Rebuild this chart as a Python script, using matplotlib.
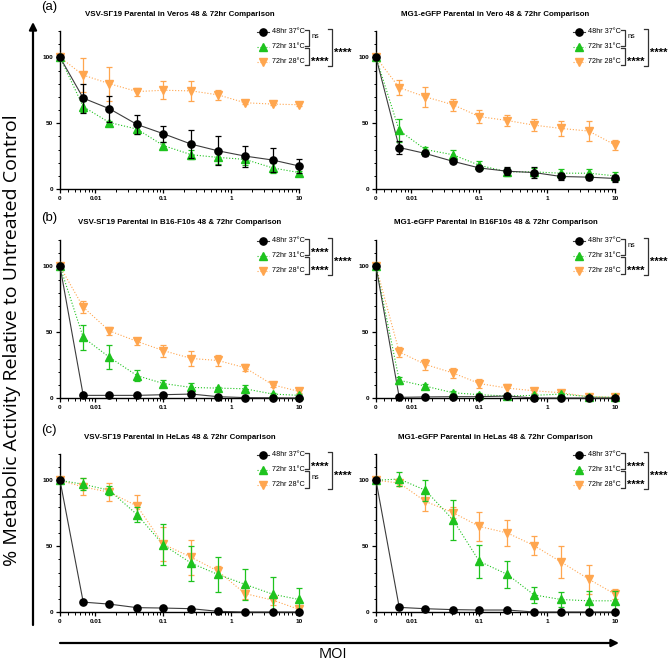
import matplotlib
matplotlib.use("Agg")
import matplotlib.pyplot as plt
from matplotlib.ticker import FixedLocator, FixedFormatter, LogLocator, MultipleLocator, NullFormatter

# --------------------- DATA ---------------------

moi = [0, 0.0066, 0.016, 0.041, 0.1, 0.26, 0.64, 1.6, 4.1, 10]
series_names = ["48hr 37°C", "72hr 31°C", "72hr 28°C"]

titles = [
    "VSV-SΓ19 Parental in Veros 48 & 72hr Comparison",
    "MG1-eGFP Parental in Vero 48 & 72hr Comparison",
    "VSV-SΓ19 Parental in B16-F10s 48 & 72hr Comparison",
    "MG1-eGFP Parental in B16F10s 48 & 72hr Comparison",
    "VSV-SΓ19 Parental in HeLas 48 & 72hr Comparison",
    "MG1-eGFP Parental in HeLas 48 & 72hr Comparison",
]
panel_tags = ["(a)", "(b)", "(c)"]

# VSV in Vero
vsv_vero_37 = [100, 69, 61, 49, 42, 34, 29, 25, 22, 17.5]
vsv_vero_37_err = [0, 11, 10, 7, 6, 10.5, 11, 8, 9, 5.5]
vsv_vero_31 = [100, 62.5, 50.5, 45.5, 33, 26, 24, 22.5, 16, 12.5]
vsv_vero_31_err = [0, 4, 1.5, 4, 2.5, 3.5, 5, 4, 3.5, 1.5]
vsv_vero_28 = [100, 86.5, 80, 74, 75, 74.5, 71.5, 65.5, 64.5, 64]
vsv_vero_28_err = [0, 13, 13, 3, 7, 7.5, 4, 1, 1, 1]

# MG1 in Vero
mg1_vero_37 = [100, 31.5, 27, 21, 16, 13.5, 12.5, 9.5, 9, 8]
mg1_vero_37_err = [0, 5, 2, 1, 1, 3, 4.5, 2.5, 2, 2.5]
mg1_vero_31 = [100, 44.5, 30, 26, 18, 13, 13, 12, 12, 10]
mg1_vero_31_err = [0, 8.5, 2, 4, 3, 3, 3, 3, 3, 3]
mg1_vero_28 = [100, 77, 70, 64, 55, 52, 48.5, 46, 44, 33.5]
mg1_vero_28_err = [0, 5.5, 7.5, 4.5, 5, 4.5, 4.5, 6, 7.5, 4]

# VSV in B16-F10
vsv_b16_37 = [100, 2, 2, 2, 2.5, 3, 1, 0.3, 0.2, 0]
vsv_b16_37_err = [0, 0.5, 0.5, 0.5, 0.5, 0.5, 0.5, 0.3, 0.2, 0.2]
vsv_b16_31 = [100, 46, 31, 17, 11, 8, 7.5, 7, 3, 2]
vsv_b16_31_err = [0, 9.5, 9, 4, 2.5, 3.5, 1, 3, 1, 1]
vsv_b16_28 = [100, 69, 51, 43, 36, 30, 28.5, 23, 10, 5]
vsv_b16_28_err = [0, 4.5, 3, 2.5, 4.5, 6, 4.5, 2.5, 2, 1.5]

# MG1 in B16F10
mg1_b16_37 = [100, 0.5, 0.8, 1, 1, 1.5, 0, 0, 0, 0]
mg1_b16_37_err = [0, 0.3, 0.3, 0.3, 0.3, 0.3, 0.2, 0.2, 0.2, 0.2]
mg1_b16_31 = [100, 13.5, 9, 4, 2.5, 1.5, 2, 3, 1, 0.5]
mg1_b16_31_err = [0, 2.5, 2, 1.5, 1, 1, 1, 1, 0.5, 0.5]
mg1_b16_28 = [100, 35, 25.5, 19, 11, 7.5, 5.5, 4, 1, 0.5]
mg1_b16_28_err = [0, 4, 4.5, 4, 3.5, 3.5, 1.5, 1, 1, 1]

# VSV in HeLa
vsv_hela_37 = [100, 7.5, 6, 3.3, 3, 2.5, 0.5, 0, 0, 0]
vsv_hela_37_err = [0, 0.5, 0.5, 0.5, 0.5, 0.5, 0.3, 0.2, 0.2, 0.2]
vsv_hela_31 = [100, 97, 92.5, 74, 51, 37, 28.5, 21, 13.5, 9.5]
vsv_hela_31_err = [0, 4.5, 3.5, 6, 15.5, 13.5, 13, 12, 13, 9]
vsv_hela_28 = [100, 95, 91, 80.5, 51.5, 41.5, 31, 14, 9, 2]
vsv_hela_28_err = [0, 6.5, 7, 8, 13, 13.5, 4, 4, 4, 2]

# MG1 in HeLa
mg1_hela_37 = [100, 3.5, 2.5, 1.8, 1.5, 1.5, 0, 0, 0, 0]
mg1_hela_37_err = [0, 0.5, 0.5, 0.5, 0.5, 0.5, 0.2, 0.2, 0.2, 0.2]
mg1_hela_31 = [100, 101, 92.5, 70, 38.5, 28.5, 13, 9.5, 8.5, 8.5]
mg1_hela_31_err = [0, 5.5, 8, 15, 12.5, 10.5, 6, 6, 7.5, 7.5]
mg1_hela_28 = [100, 98, 84, 75.5, 65, 60, 50.5, 38, 25, 13.5]
mg1_hela_28_err = [0, 2, 7.5, 4, 11, 10, 7, 12, 11, 4]

panel_means = [
    (vsv_vero_37, vsv_vero_31, vsv_vero_28),
    (mg1_vero_37, mg1_vero_31, mg1_vero_28),
    (vsv_b16_37, vsv_b16_31, vsv_b16_28),
    (mg1_b16_37, mg1_b16_31, mg1_b16_28),
    (vsv_hela_37, vsv_hela_31, vsv_hela_28),
    (mg1_hela_37, mg1_hela_31, mg1_hela_28),
]
panel_errs = [
    (vsv_vero_37_err, vsv_vero_31_err, vsv_vero_28_err),
    (mg1_vero_37_err, mg1_vero_31_err, mg1_vero_28_err),
    (vsv_b16_37_err, vsv_b16_31_err, vsv_b16_28_err),
    (mg1_b16_37_err, mg1_b16_31_err, mg1_b16_28_err),
    (vsv_hela_37_err, vsv_hela_31_err, vsv_hela_28_err),
    (mg1_hela_37_err, mg1_hela_31_err, mg1_hela_28_err),
]
# significance: 37 vs 31, 31 vs 28, 37 vs 28
panel_sig = [
    ("ns", "****", "****"),
    ("ns", "****", "****"),
    ("****", "****", "****"),
    ("ns", "****", "****"),
    ("****", "ns", "****"),
    ("****", "****", "****"),
]

# --------------------- STYLE ---------------------

ZERO_POS = 0.003  # where MOI 0 sits on the log axis
styles = [
    dict(marker="o", color="black", line="#3c3c3c", ls="-"),
    dict(marker="^", color="#1ec31e", line="#1ec31e", ls=":"),
    dict(marker="v", color="#ffa64f", line="#ffa64f", ls=":"),
]
TICK_FONT = dict(family="Liberation Sans", size=4.6, weight="bold")
MS = 5.2

W, H = 669, 665
fig = plt.figure(figsize=(W / 100, H / 100), dpi=100)

overlay = fig.add_axes([0, 0, 1, 1])
overlay.set_xlim(0, W)
overlay.set_ylim(H, 0)
overlay.axis("off")

lefts = [60, 376]
tops = [31, 240, 454]
ax_w = 239
ax_h = 158


def draw_panel(ax, title, means, errs, sig):
    x = [ZERO_POS if m == 0 else m for m in moi]
    for i in [2, 1, 0]:
        st = styles[i]
        ax.plot(x, means[i], color=st["line"], ls=st["ls"], lw=0.8,
                zorder=2 + (2 - i), clip_on=False)
        ax.errorbar(x, means[i], yerr=errs[i], fmt=st["marker"], color=st["color"],
                    ecolor=st["color"], elinewidth=0.9, capsize=2.4, capthick=0.9,
                    markersize=MS, zorder=3 + (2 - i), clip_on=False)

    ax.set_xscale("log")
    ax.set_xlim(ZERO_POS, 10)
    ax.set_ylim(0, 120)
    ax.xaxis.set_major_locator(FixedLocator([ZERO_POS, 0.01, 0.1, 1, 10]))
    ax.xaxis.set_major_formatter(FixedFormatter(["0", "0.01", "0.1", "1", "10"]))
    ax.xaxis.set_minor_locator(LogLocator(base=10, subs=range(2, 10)))
    ax.xaxis.set_minor_formatter(NullFormatter())
    ax.yaxis.set_major_locator(FixedLocator([0, 50, 100]))
    ax.yaxis.set_minor_locator(MultipleLocator(10))
    ax.spines["top"].set_visible(False)
    ax.spines["right"].set_visible(False)
    for s in ["left", "bottom"]:
        ax.spines[s].set_linewidth(1.0)
    ax.tick_params(which="major", length=3, width=0.9, pad=2)
    ax.tick_params(which="minor", length=1.8, width=0.7)
    for lab in ax.get_xticklabels() + ax.get_yticklabels():
        lab.set_fontproperties(TICK_FONT)
        lab.set_fontsize(4.6)
    ax.patch.set_alpha(0)

    ax.text(0.5, 1 + 17 / ax_h, title, transform=ax.transAxes, ha="center",
            va="center", fontsize=5.7, fontweight="bold", family="Liberation Sans")

    # legend
    rows = [0.994, 0.899, 0.804]
    for i, yy in enumerate(rows):
        st = styles[i]
        ax.plot([0.825, 0.875], [yy, yy], transform=ax.transAxes, color=st["line"],
                ls=st["ls"], lw=0.8, clip_on=False)
        ax.plot([0.85], [yy], transform=ax.transAxes, marker=st["marker"],
                color=st["color"], markersize=MS, clip_on=False)
        ax.text(0.888, yy, series_names[i], transform=ax.transAxes, va="center",
                ha="left", fontsize=5.2, family="Liberation Sans")

    def bracket(xb, y0, y1, label, tick=0.016):
        ax.plot([xb - tick, xb, xb, xb - tick], [y0, y0, y1, y1],
                transform=ax.transAxes, color="#333333", lw=0.9, clip_on=False)
        if label == "ns":
            ax.text(xb + 0.01, (y0 + y1) / 2 + 0.01, label, transform=ax.transAxes,
                    va="center", ha="left", fontsize=5.2, family="Liberation Sans")
        else:
            ax.text(xb + 0.008, (y0 + y1) / 2 - 0.035, label, transform=ax.transAxes,
                    va="center", ha="left", fontsize=8, fontweight="bold",
                    family="Liberation Sans")

    bracket(1.042, 1.006, 0.905, sig[0])
    bracket(1.042, 0.892, 0.785, sig[1])
    bracket(1.14, 1.013, 0.778, sig[2], tick=0.018)


for r in range(3):
    for c in range(2):
        k = r * 2 + c
        ax = fig.add_axes([lefts[c] / W, 1 - (tops[r] + ax_h) / H, ax_w / W, ax_h / H])
        draw_panel(ax, titles[k], panel_means[k], panel_errs[k], panel_sig[k])

# panel tags
for tag, yy in zip(panel_tags, [7, 218, 430]):
    overlay.text(49, yy, tag, ha="center", va="center", fontsize=9.5,
                 family="Liberation Sans")

# big axis arrows
overlay.annotate("", xy=(33, 22), xytext=(33, 625),
                 arrowprops=dict(arrowstyle="-|>", lw=1.6, color="black",
                                 mutation_scale=11, shrinkA=0, shrinkB=0))
overlay.annotate("", xy=(619, 643), xytext=(60, 643),
                 arrowprops=dict(arrowstyle="-|>", lw=1.6, color="black",
                                 mutation_scale=11, shrinkA=0, shrinkB=0))
overlay.text(12, 340, "% Metabolic Activity Relative to Untreated Control",
             rotation=90, ha="center", va="center", fontsize=14, family="Open Sans")
overlay.text(333, 655, "MOI", ha="center", va="center", fontsize=10.5,
             family="Open Sans")

plt.savefig("out.png", dpi=100)
